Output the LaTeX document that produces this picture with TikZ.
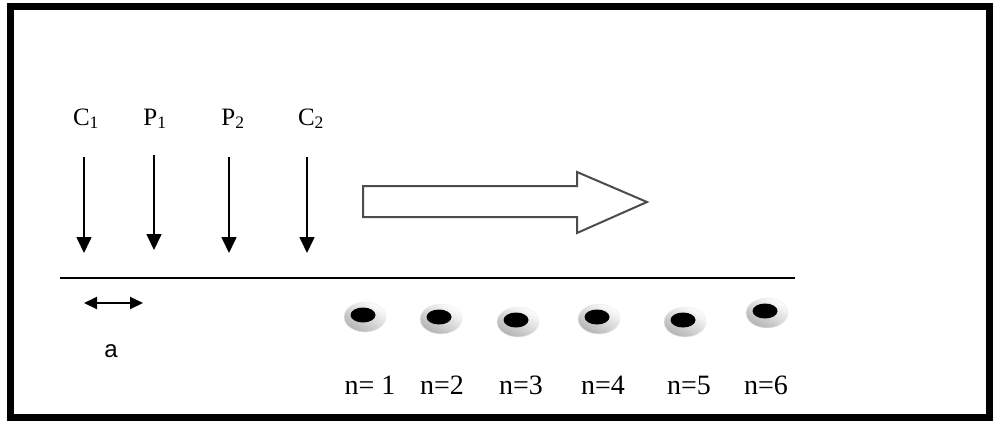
\documentclass[tikz,border=0pt]{standalone}
\usepackage{fontspec}
\setmainfont{Liberation Serif}
\newfontfamily\arialfont{Liberation Sans}
\usetikzlibrary{arrows.meta}
\tikzset{
  lbl/.style={font=\fontsize{25}{28}\selectfont, inner sep=0pt, anchor=base},
  nlbl/.style={font=\fontsize{28}{32}\selectfont, inner sep=0pt, anchor=base},
  downarrow/.style={line width=1.6pt, -{Triangle[width=15pt,length=16pt]}},
  dimarrow/.style={line width=2pt, {Triangle[width=12pt,length=13pt]}-{Triangle[width=12pt,length=13pt]}},
  ring/.style={shade, top color=white, bottom color=gray!60, shading angle=-30, draw=gray!15, line width=0.5pt},
}
\begin{document}
\begin{tikzpicture}[x=1pt,y=-1pt]
\useasboundingbox (0,0) rectangle (993,421);
\fill[white] (0,0) rectangle (993,421);
\draw[line width=7pt] (10.5,6.5) rectangle (989.5,417.5);

% labels
\node[lbl] (C1) at (86,125) {C\textsubscript{1}};
\node[lbl] (P1) at (155,125) {P\textsubscript{1}};
\node[lbl] (P2) at (233,125) {P\textsubscript{2}};
\node[lbl] (C2) at (311,125) {C\textsubscript{2}};

% vertical arrows
\coordinate (c1s) at (84,157);  \coordinate (c1e) at (84,253);
\coordinate (p1s) at (154,155); \coordinate (p1e) at (154,250);
\coordinate (p2s) at (229,157); \coordinate (p2e) at (229,253);
\coordinate (c2s) at (307,157); \coordinate (c2e) at (307,253);
\draw[downarrow] (c1s) -- (c1e);
\draw[downarrow] (p1s) -- (p1e);
\draw[downarrow] (p2s) -- (p2e);
\draw[downarrow] (c2s) -- (c2e);

% baseline
\coordinate (ls) at (60,278); \coordinate (le) at (795,278);
\draw[line width=2pt] (ls) -- (le);

% dimension a
\coordinate (as) at (84,303); \coordinate (ae) at (143,303);
\draw[dimarrow] (as) -- (ae);
\node[font=\arialfont\fontsize{24}{28}\selectfont, inner sep=0pt, anchor=base] (a) at (111,357) {a};

% big arrow
\draw[line width=2pt, draw=gray!60!black, fill=white, line join=miter]
  (363,186) -- (577,186) -- (577,172) -- (647,202) -- (577,233) -- (577,217) -- (363,217) -- cycle;

% holes
\foreach \i/\x/\y in {1/364/316, 2/440/318, 3/517/321, 4/598/318, 5/684/321, 6/766/312} {
  \path[ring] (\x+1,\y+1) ellipse [x radius=21, y radius=15];
  \fill[black] (\x-1,\y-1) ellipse [x radius=12.5, y radius=7.5];
}

% n labels
\node[nlbl] (n1) at (370,394) {n= 1};
\node[nlbl] (n2) at (442,394) {n=2};
\node[nlbl] (n3) at (521,394) {n=3};
\node[nlbl] (n4) at (603,394) {n=4};
\node[nlbl] (n5) at (689,394) {n=5};
\node[nlbl] (n6) at (766,394) {n=6};
\end{tikzpicture}
\end{document}
